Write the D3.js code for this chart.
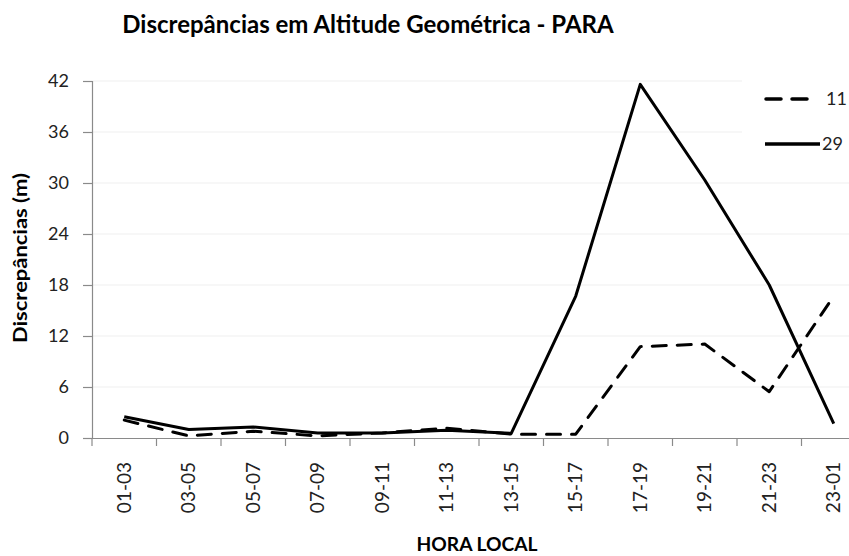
<!DOCTYPE html>
<html>
<head>
<meta charset="utf-8">
<script src="https://cdn.jsdelivr.net/npm/d3@7"></script>
<style>
  body { margin: 0; background: #fff; }
  svg { display: block; font-family: Lato, "Open Sans", sans-serif; }
</style>
</head>
<body>
<svg id="chart" width="849" height="556"></svg>
<script>
// Time windows (local hour) and discrepancies in metres
const categories = ["01-03","03-05","05-07","07-09","09-11","11-13","13-15","15-17","17-19","19-21","21-23","23-01"];
const serie11 = [2.1, 0.25, 0.8, 0.25, 0.6, 1.15, 0.45, 0.45, 10.75, 11.05, 5.45, 16.7];
const serie29 = [2.5, 1.0, 1.3, 0.6, 0.6, 0.9, 0.55, 16.7, 41.6, 30.35, 18.0, 1.7];
const yTicks = [0, 6, 12, 18, 24, 30, 36, 42];
const seriesNames = ["11", "29"];

const svg = d3.select("#chart");
const margin = { left: 92, top: 81, right: -17, bottom: 118 };
const W = 849, H = 556;
const x0 = margin.left, x1 = W - margin.right;
const y0 = H - margin.bottom, y1 = margin.top;

const x = d3.scaleBand().domain(categories).range([x0, x1]).padding(0);
const y = d3.scaleLinear().domain([0, 42]).range([y0, y1]);

// Horizontal gridlines
svg.append("g")
  .selectAll("line")
  .data(yTicks.filter(d => d > 0))
  .join("line")
  .attr("x1", x0).attr("x2", x1)
  .attr("y1", d => y(d)).attr("y2", d => y(d))
  .attr("stroke", "#efefef").attr("stroke-width", 1.2);

// Y axis
const yAxis = svg.append("g")
  .attr("transform", `translate(${x0},0)`)
  .call(d3.axisLeft(y).tickValues(yTicks).tickSize(9).tickPadding(14));
yAxis.select(".domain").attr("stroke", "#8a8a8a").attr("stroke-width", 1.2);
yAxis.selectAll(".tick line").attr("stroke", "#8a8a8a").attr("stroke-width", 1.2);
yAxis.selectAll(".tick text").attr("font-size", 18).attr("fill", "#222").attr("font-family", "Lato, sans-serif");

// X axis: ticks sit between categories
const xAxis = svg.append("g")
  .attr("transform", `translate(0,${y0})`)
  .call(d3.axisBottom(x).tickSize(0).tickPadding(0));
xAxis.select(".domain").attr("stroke", "#8a8a8a").attr("stroke-width", 1.2);
xAxis.selectAll(".tick text")
  .attr("font-size", 19).attr("fill", "#222").attr("font-family", "Lato, sans-serif")
  .attr("transform", "rotate(-90)")
  .attr("text-anchor", "end")
  .attr("x", -24).attr("y", 0).attr("dy", "0.35em");
svg.append("g")
  .selectAll("line")
  .data(categories)
  .join("line")
  .attr("x1", d => x(d)).attr("x2", d => x(d))
  .attr("y1", y0).attr("y2", y0 + 8)
  .attr("stroke", "#8a8a8a").attr("stroke-width", 1.2);

// Series lines
const line = d3.line()
  .x((d, i) => x(categories[i]) + x.bandwidth() / 2)
  .y(d => y(d));

svg.append("path")
  .datum(serie29)
  .attr("d", line)
  .attr("fill", "none").attr("stroke", "#000").attr("stroke-width", 3)
  .attr("stroke-linejoin", "round");

svg.append("path")
  .datum(serie11)
  .attr("d", line)
  .attr("fill", "none").attr("stroke", "#000").attr("stroke-width", 3)
  .attr("stroke-dasharray", "14 11").attr("stroke-linecap", "round")
  .attr("stroke-linejoin", "round");

// Legend
const legend = svg.append("g");
legend.append("rect").attr("x", 742).attr("y", 78).attr("width", 107).attr("height", 80).attr("fill", "#fff");
const legY = [99, 144];
legend.append("line").attr("x1", 766).attr("x2", 808).attr("y1", legY[0]).attr("y2", legY[0])
  .attr("stroke", "#000").attr("stroke-width", 3.5).attr("stroke-dasharray", "15 11").attr("stroke-linecap", "round");
legend.append("line").attr("x1", 765).attr("x2", 820).attr("y1", legY[1]).attr("y2", legY[1])
  .attr("stroke", "#000").attr("stroke-width", 3.5);
legend.selectAll("text").data(seriesNames).join("text")
  .attr("x", (d, i) => i === 0 ? 826 : 822)
  .attr("y", (d, i) => legY[i]).attr("dy", "0.35em")
  .attr("font-size", 18).attr("fill", "#222")
  .text(d => d);

// Titles
svg.append("text").attr("x", 368).attr("y", 33).attr("text-anchor", "middle")
  .attr("font-size", 24).attr("font-weight", "bold").attr("fill", "#000")
  .text("Discrepâncias em Altitude Geométrica - PARA");
svg.append("text").attr("x", 477).attr("y", 551).attr("text-anchor", "middle")
  .attr("font-size", 19).attr("font-weight", "bold").attr("fill", "#000")
  .attr("textLength", 121).attr("lengthAdjust", "spacingAndGlyphs")
  .text("HORA LOCAL");
svg.append("text").attr("transform", "translate(27,258) rotate(-90)").attr("text-anchor", "middle")
  .attr("font-size", 19).attr("font-weight", "bold").attr("fill", "#000")
  .attr("textLength", 170).attr("lengthAdjust", "spacingAndGlyphs")
  .text("Discrepâncias (m)");
</script>
</body>
</html>
